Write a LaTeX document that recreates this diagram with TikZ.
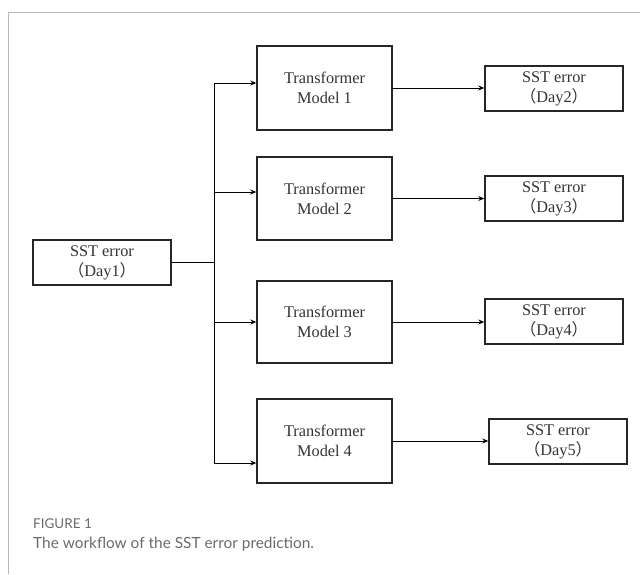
\documentclass[tikz,border=0pt]{standalone}
\usepackage{fontspec}
\setmainfont{Liberation Serif}
\newfontfamily\capfont{Lato}
\newfontfamily\cjk{Noto Sans CJK SC}
\usetikzlibrary{arrows.meta}
\definecolor{txt}{HTML}{333333}
\definecolor{capgray}{HTML}{6A6A6A}
\definecolor{framegray}{HTML}{B8B8B8}
\tikzset{
  mbox/.style={draw=black!85, line width=1.4pt, minimum width=135pt, minimum height=83pt,
    align=center, inner sep=0pt, text=txt, font=\fontsize{16.3}{20}\selectfont},
  dbox/.style={draw=black!85, line width=1.4pt, minimum width=138pt, minimum height=45pt,
    align=center, inner sep=0pt, text=txt, font=\fontsize{16.3}{20}\selectfont},
  conn/.style={draw=black, line width=0.8pt},
  arr/.style={conn, -{Stealth[length=6pt,width=5pt]}},
  frame/.style={draw=framegray, line width=1pt}
}
\begin{document}
\begin{tikzpicture}[x=1pt,y=-1pt]
\useasboundingbox (0,0) rectangle (640,574);
% frame
\coordinate (ftl) at (8,12);
\coordinate (ftr) at (640,12);
\coordinate (fbl) at (8,574);
\draw[frame] (ftr) -- (ftl) -- (fbl);
% nodes
\node[dbox] (d1) at (102,262.5) {SST error\\{\cjk （}Day1{\cjk ）}};
\node[mbox, minimum height=84pt] (m1) at (324.5,88) {Transformer\\Model 1};
\node[mbox] (m2) at (324.5,198.5) {Transformer\\Model 2};
\node[mbox, minimum height=82pt] (m3) at (324.5,322) {Transformer\\Model 3};
\node[mbox, minimum height=84pt] (m4) at (324.5,441) {Transformer\\Model 4};
\node[dbox] (d2) at (554,88.5) {SST error\\{\cjk （}Day2{\cjk ）}};
\node[dbox] (d3) at (554,198.5) {SST error\\{\cjk （}Day3{\cjk ）}};
\node[dbox] (d4) at (554,321.5) {SST error\\{\cjk （}Day4{\cjk ）}};
\node[dbox] (d5) at (558,441.5) {SST error\\{\cjk （}Day5{\cjk ）}};
% junction coordinates
\coordinate (jc) at (214,262.5);
\coordinate (j1) at (214,83);
\coordinate (j2) at (214,192);
\coordinate (j3) at (214,322);
\coordinate (j4) at (214,463);
% connectors
\draw[conn] (d1.east) -- (jc);
\draw[conn] (j1) -- (j4);
\draw[arr] (j1) -- (j1 -| m1.west);
\draw[arr] (j2) -- (j2 -| m2.west);
\draw[arr] (j3) -- (j3 -| m3.west);
\draw[arr] (j4) -- (j4 -| m4.west);
\draw[arr] (m1.east) -- (m1.east -| d2.west);
\draw[arr] (m2.east) -- (m2.east -| d3.west);
\draw[arr] (m3.east) -- (m3.east -| d4.west);
\draw[arr] (m4.east) -- (m4.east -| d5.west);
% caption
\node[anchor=base west, inner sep=0pt, text=capgray, font=\capfont\fontsize{13.5}{15}\selectfont] (cap1) at (33,528) {FIGURE 1};
\node[anchor=base west, inner sep=0pt, text=capgray, font=\capfont\fontsize{15.4}{18}\selectfont] (cap2) at (33,548) {The workflow of the SST error prediction.};
\end{tikzpicture}
\end{document}
